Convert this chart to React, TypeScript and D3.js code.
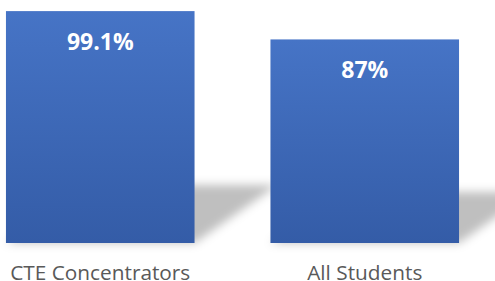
import { FC, useEffect, useRef, RefObject } from 'react';
import * as d3 from 'd3';

const categories = ['CTE Concentrators', 'All Students'];
const values = [99.1, 87];
const valueLabels = ['99.1%', '87%'];

const App: FC = () => {
    const svgRef = useRef<SVGSVGElement>(null);

    function draw(svgRef: RefObject<SVGSVGElement>) {
        const width = 495;
        const height = 281;
        const baseline = 243;

        const svg = d3.select(svgRef.current)
            .attr("width", width)
            .attr("height", height);
        svg.selectAll("*").remove();

        const x = d3.scaleBand<string>()
            .domain(categories)
            .range([-32, 497])
            .paddingInner(0.287)
            .paddingOuter(0.1435);

        const y = d3.scaleLinear()
            .domain([0, 100])
            .range([baseline, 9]);

        const defs = svg.append("defs");
        const grad = defs.append("linearGradient")
            .attr("id", "barGrad")
            .attr("x1", 0).attr("y1", 0)
            .attr("x2", 0).attr("y2", 1);
        grad.append("stop").attr("offset", "0%").attr("stop-color", "#4674C6");
        grad.append("stop").attr("offset", "100%").attr("stop-color", "#345CA7");

        const blur = defs.append("filter")
            .attr("id", "shadowBlur")
            .attr("x", "-50%").attr("y", "-50%")
            .attr("width", "200%").attr("height", "200%");
        blur.append("feGaussianBlur").attr("stdDeviation", 5);

        const data = categories.map((c, i) => ({ cat: c, value: values[i], label: valueLabels[i] }));

        // perspective shadow behind each bar
        svg.append("g")
            .selectAll("path")
            .data(data)
            .enter()
            .append("path")
            .attr("d", (d) => {
                const x0 = x(d.cat)!;
                const x1 = x0 + x.bandwidth();
                const h = (baseline - y(d.value)) * 0.25;
                const dx = h * 1.43;
                return `M${x0},${baseline}L${x1},${baseline}L${x1 + dx},${baseline - h}L${x0 + dx},${baseline - h}Z`;
            })
            .attr("fill", "#000")
            .attr("fill-opacity", 0.25)
            .attr("filter", "url(#shadowBlur)");

        svg.append("g")
            .selectAll("rect")
            .data(data)
            .enter()
            .append("rect")
            .attr("x", (d) => x(d.cat)!)
            .attr("y", (d) => y(d.value))
            .attr("width", x.bandwidth())
            .attr("height", (d) => baseline - y(d.value))
            .attr("fill", "url(#barGrad)");

        svg.append("g")
            .selectAll("text")
            .data(data)
            .enter()
            .append("text")
            .attr("x", (d) => x(d.cat)! + x.bandwidth() / 2)
            .attr("y", (d) => y(d.value) + 38.5)
            .attr("text-anchor", "middle")
            .attr("font-family", "'Open Sans', sans-serif")
            .attr("font-weight", "bold")
            .attr("font-size", "23px")
            .attr("fill", "#fff")
            .text((d) => d.label);

        svg.append("g")
            .selectAll("text")
            .data(data)
            .enter()
            .append("text")
            .attr("x", (d) => x(d.cat)! + x.bandwidth() / 2)
            .attr("y", 279.5)
            .attr("text-anchor", "middle")
            .attr("font-family", "'Open Sans', sans-serif")
            .attr("font-size", "20.8px")
            .attr("fill", "#595959")
            .text((d) => d.cat);
    }

    useEffect(() => {
        draw(svgRef);
    }, [svgRef]);

    return <svg ref={svgRef} style={{ position: 'absolute', left: 0, top: 0 }}></svg>;
};

export default App;
